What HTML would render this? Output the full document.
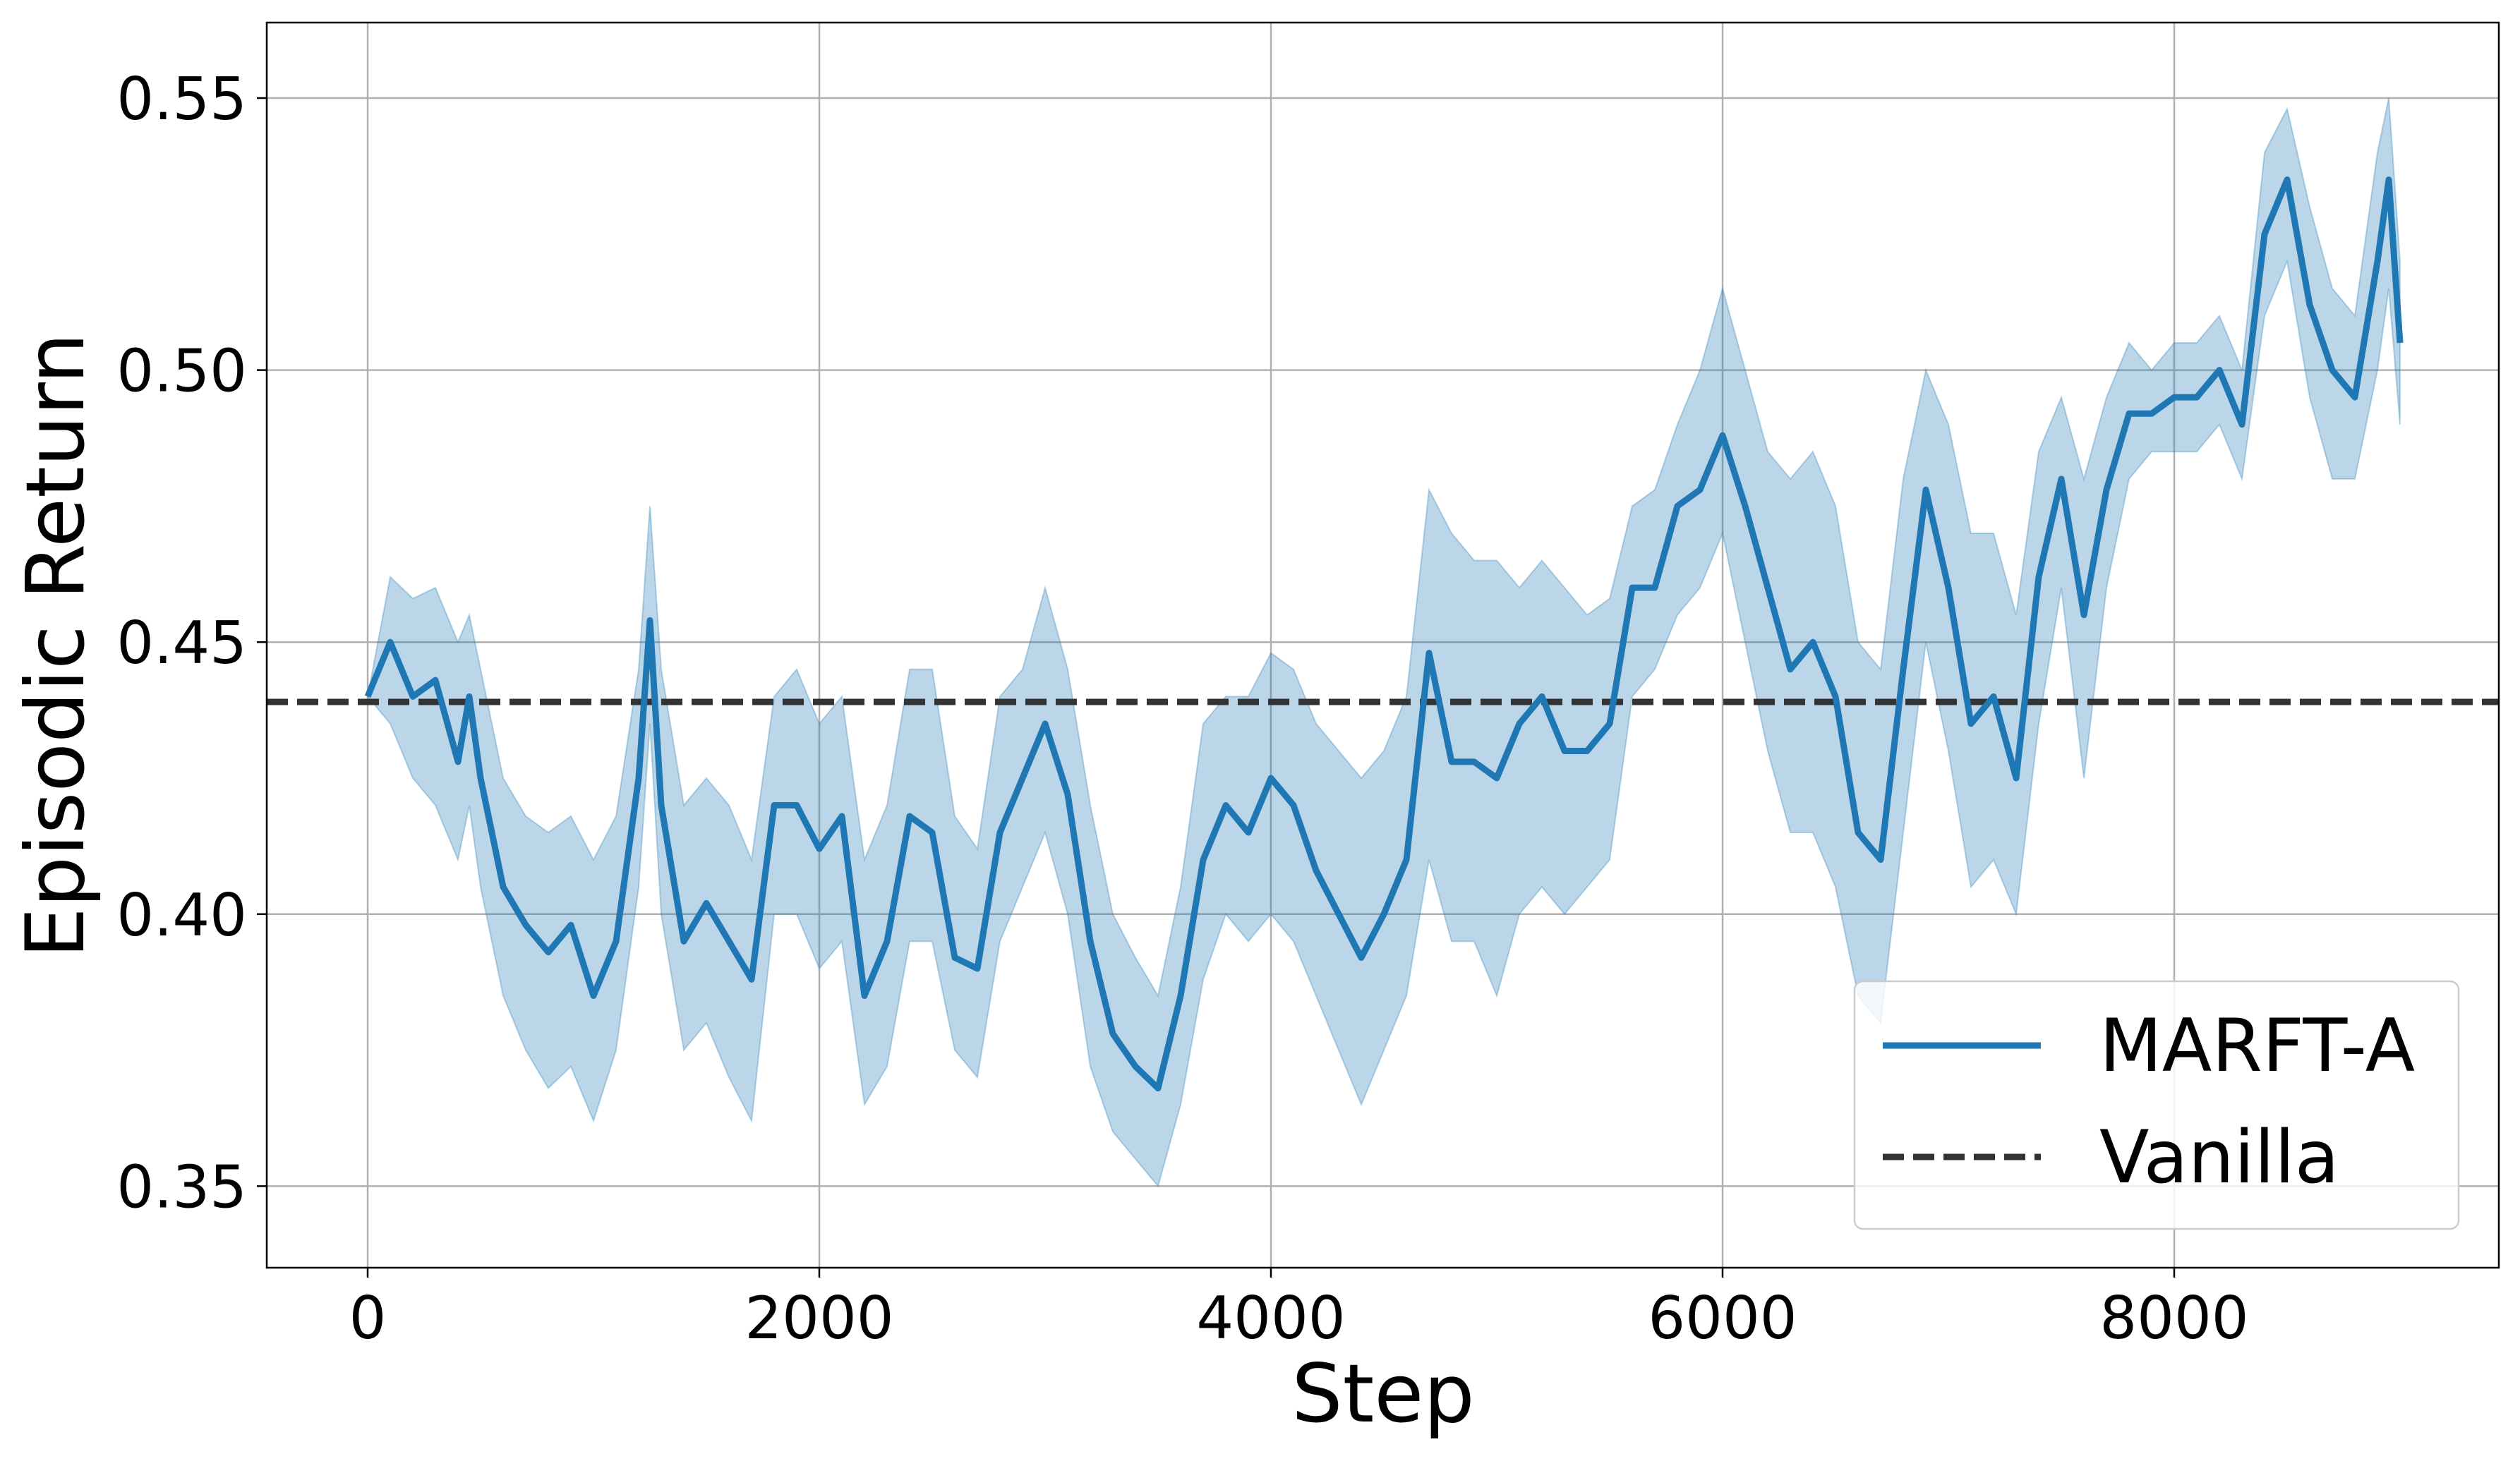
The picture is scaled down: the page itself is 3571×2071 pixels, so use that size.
<!DOCTYPE html>
<html><head><meta charset="utf-8"><style>
html,body{margin:0;padding:0;background:#fff;}
svg{display:block;font-family:"DejaVu Sans","Liberation Sans",sans-serif;}
</style></head><body>
<svg id="chart" width="3571" height="2071" viewBox="0 0 3571 2071" xmlns="http://www.w3.org/2000/svg">
<g id="grid"></g>
<path id="band" fill="#1f77b4" fill-opacity="0.3" stroke="#1f77b4" stroke-opacity="0.3" stroke-width="2"></path>
<line id="vanilla" stroke="#333" stroke-width="9" stroke-dasharray="30,13"></line>
<path id="mean" fill="none" stroke="#1f77b4" stroke-width="9" stroke-linejoin="round"></path>
<rect x="378" y="32" width="3163" height="1765" fill="none" stroke="#000" stroke-width="2.5"></rect>
<g id="ticks"></g>
<text x="1960" y="2015" font-size="114" text-anchor="middle">Step</text>
<text transform="translate(118,915) rotate(-90)" font-size="114" text-anchor="middle">Episodic Return</text>
<g>
<rect x="2628" y="1391" width="856" height="351" rx="12" fill="#fff" fill-opacity="0.8" stroke="#ccc" stroke-width="2.5"></rect>
<line x1="2668" y1="1482" x2="2892" y2="1482" stroke="#1f77b4" stroke-width="9"></line>
<text x="2975" y="1518" font-size="103">MARFT-A</text>
<line x1="2668" y1="1640" x2="2892" y2="1640" stroke="#333" stroke-width="9" stroke-dasharray="30,13"></line>
<text x="2975" y="1676" font-size="103">Vanilla</text>
</g>
</svg>
<script>
const steps=[0,100,200,300,400,450,500,600,700,800,900,1000,1100,1200,1250,1300,1400,1500,1600,1700,1800,1900,2000,2100,2200,2300,2400,2500,2600,2700,2800,2900,3000,3100,3200,3300,3400,3500,3600,3700,3800,3900,4000,4100,4200,4300,4400,4500,4600,4700,4800,4900,5000,5100,5200,5300,5400,5500,5600,5700,5800,5900,6000,6100,6200,6300,6400,6500,6600,6700,6800,6900,7000,7100,7200,7300,7400,7500,7600,7700,7800,7900,8000,8100,8200,8300,8400,8500,8600,8700,8800,8900,8950,9000];
const meanVals=[0.440,0.450,0.440,0.443,0.428,0.440,0.425,0.405,0.398,0.393,0.398,0.385,0.395,0.425,0.454,0.420,0.395,0.402,0.395,0.388,0.420,0.420,0.412,0.418,0.385,0.395,0.418,0.415,0.392,0.390,0.415,0.425,0.435,0.422,0.395,0.378,0.372,0.368,0.385,0.410,0.420,0.415,0.425,0.420,0.408,0.400,0.392,0.400,0.410,0.448,0.428,0.428,0.425,0.435,0.440,0.430,0.430,0.435,0.460,0.460,0.475,0.478,0.488,0.475,0.460,0.445,0.450,0.440,0.415,0.410,0.445,0.478,0.460,0.435,0.440,0.425,0.462,0.480,0.455,0.478,0.492,0.492,0.495,0.495,0.500,0.490,0.525,0.535,0.512,0.500,0.495,0.520,0.535,0.505];
const lowerVals=[0.440,0.435,0.425,0.420,0.410,0.420,0.405,0.385,0.375,0.368,0.372,0.362,0.375,0.405,0.435,0.400,0.375,0.380,0.370,0.362,0.400,0.400,0.390,0.395,0.365,0.372,0.395,0.395,0.375,0.370,0.395,0.405,0.415,0.400,0.372,0.360,0.355,0.350,0.365,0.388,0.400,0.395,0.400,0.395,0.385,0.375,0.365,0.375,0.385,0.410,0.395,0.395,0.385,0.400,0.405,0.400,0.405,0.410,0.440,0.445,0.455,0.460,0.470,0.450,0.430,0.415,0.415,0.405,0.385,0.380,0.415,0.450,0.430,0.405,0.410,0.400,0.435,0.460,0.425,0.460,0.480,0.485,0.485,0.485,0.490,0.480,0.510,0.520,0.495,0.480,0.480,0.500,0.515,0.490];
const upperVals=[0.440,0.462,0.458,0.460,0.450,0.455,0.445,0.425,0.418,0.415,0.418,0.410,0.418,0.445,0.475,0.445,0.420,0.425,0.420,0.410,0.440,0.445,0.435,0.440,0.410,0.420,0.445,0.445,0.418,0.412,0.440,0.445,0.460,0.445,0.420,0.400,0.392,0.385,0.405,0.435,0.440,0.440,0.448,0.445,0.435,0.430,0.425,0.430,0.440,0.478,0.470,0.465,0.465,0.460,0.465,0.460,0.455,0.458,0.475,0.478,0.490,0.500,0.515,0.500,0.485,0.480,0.485,0.475,0.450,0.445,0.480,0.500,0.490,0.470,0.470,0.455,0.485,0.495,0.480,0.495,0.505,0.500,0.505,0.505,0.510,0.500,0.540,0.548,0.530,0.515,0.510,0.540,0.550,0.520];
const vanillaVal=0.439;
const xTicks=[0,2000,4000,6000,8000];
const yTicks=[0.35,0.40,0.45,0.50,0.55];
const yTickLabels=["0.35","0.40","0.45","0.50","0.55"];

const X0=378,X1=3541,Y0=32,Y1=1797;
function xs(v){return 521+v*(640/2000);}
function ys(v){return 139+(0.55-v)*(385.6/0.05);}
const NS="http://www.w3.org/2000/svg";
const grid=document.getElementById('grid'),ticks=document.getElementById('ticks');
xTicks.forEach(t=>{
  const x=xs(t);
  const g=document.createElementNS(NS,'line');
  
  
  g.setAttribute('x1',x);g.setAttribute('x2',x);g.setAttribute('y1',Y0);g.setAttribute('y2',Y1);
  g.setAttribute('stroke','#b0b0b0');g.setAttribute('stroke-width','2.5');grid.appendChild(g);
  const tk=document.createElementNS(NS,'line');
  
  
  tk.setAttribute('x1',x);tk.setAttribute('x2',x);tk.setAttribute('y1',Y1);tk.setAttribute('y2',Y1+14);
  tk.setAttribute('stroke','#000');tk.setAttribute('stroke-width','2.5');ticks.appendChild(tk);
  const tx=document.createElementNS(NS,'text');
  
  
  tx.setAttribute('x',x);tx.setAttribute('y',1897);tx.setAttribute('font-size','83');tx.setAttribute('text-anchor','middle');
  tx.textContent=String(t);ticks.appendChild(tx);
});
yTicks.forEach((t,i)=>{
  const y=ys(t);
  const g=document.createElementNS(NS,'line');
  
  
  g.setAttribute('x1',X0);g.setAttribute('x2',X1);g.setAttribute('y1',y);g.setAttribute('y2',y);
  g.setAttribute('stroke','#b0b0b0');g.setAttribute('stroke-width','2.5');grid.appendChild(g);
  const tk=document.createElementNS(NS,'line');
  
  
  tk.setAttribute('x1',X0-14);tk.setAttribute('x2',X0);tk.setAttribute('y1',y);tk.setAttribute('y2',y);
  tk.setAttribute('stroke','#000');tk.setAttribute('stroke-width','2.5');ticks.appendChild(tk);
  const tx=document.createElementNS(NS,'text');
  
  
  tx.setAttribute('x',X0-28);tx.setAttribute('y',y+30);tx.setAttribute('font-size','83');tx.setAttribute('text-anchor','end');
  tx.textContent=yTickLabels[i];ticks.appendChild(tx);
});
let d='';
steps.forEach((s,i)=>{d+=(i?'L':'M')+xs(s)+','+ys(upperVals[i]);});
for(let i=steps.length-1;i>=0;i--){d+='L'+xs(steps[i])+','+ys(lowerVals[i]);}
document.getElementById('band').setAttribute('d',d+'Z');
let m='';
steps.forEach((s,i)=>{m+=(i?'L':'M')+xs(s)+','+ys(meanVals[i]);});
document.getElementById('mean').setAttribute('d',m);
const v=document.getElementById('vanilla');
v.setAttribute('x1',X0);v.setAttribute('x2',X1);v.setAttribute('y1',ys(vanillaVal));v.setAttribute('y2',ys(vanillaVal));
</script>
</body></html>
